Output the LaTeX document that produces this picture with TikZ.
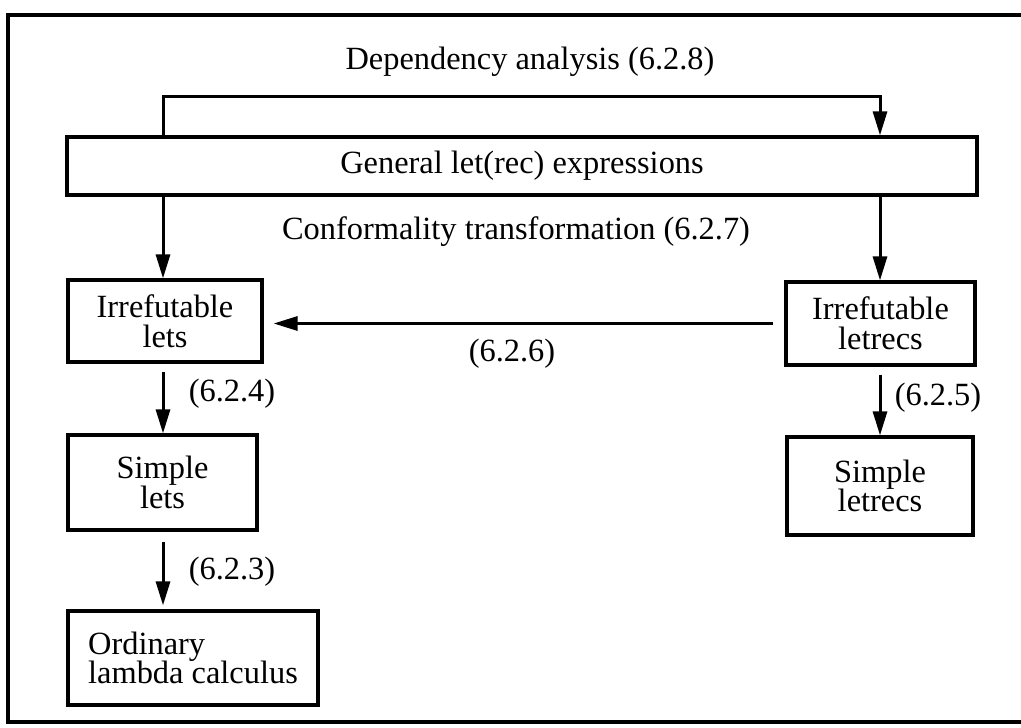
\documentclass[tikz,border=0pt]{standalone}
\usepackage{fontspec}
\setmainfont{Liberation Serif}
\usetikzlibrary{arrows.meta}
\tikzset{
  box/.style={draw, line width=1.6pt, rectangle, inner sep=0pt, align=center,
    font=\fontsize{16.2}{14.8}\selectfont},
  lbl/.style={inner sep=0pt, font=\fontsize{16.2}{18}\selectfont},
  arr/.style={line width=1.5pt, -{Triangle[length=12pt,width=7pt]}},
  frame/.style={line width=2pt, line cap=rect}
}
\begin{document}
\begin{tikzpicture}[x=0.5pt, y=-0.5pt]
\useasboundingbox (0,0) rectangle (1021,727);
% outer frame (right side cut off)
\coordinate (ftl) at (8,15);
\coordinate (ftr) at (1021,15);
\coordinate (fbl) at (8,722);
\coordinate (fbr) at (1021,722);
\draw[frame] (ftr) -- (ftl) -- (fbl) -- (fbr);

% boxes
\node[box, minimum width=455pt, minimum height=29pt] (gen) at (522,166) {General let(rec) expressions};
\node[box, minimum width=97pt, minimum height=41pt] (irl) at (165,321) {Irrefutable\\lets};
\node[box, minimum width=94.5pt, minimum height=41.5pt] (irr) at (880.5,323.5) {Irrefutable\\letrecs};
\node[box, minimum width=94.5pt, minimum height=47.5pt] (sl) at (162.5,482.5) {Simple\\lets};
\node[box, minimum width=93pt, minimum height=49pt] (sr) at (880,486) {Simple\\letrecs};
\node[box, minimum width=125pt, minimum height=47pt, align=left] (ord) at (193,658) {Ordinary\\lambda calculus};

% labels
\node[lbl] (ldep) at (530,62) {Dependency analysis (6.2.8)};
\node[lbl] (lconf) at (516,232) {Conformality transformation (6.2.7)};
\node[lbl] (l626) at (512,354) {(6.2.6)};
\node[lbl] (l624) at (232,394) {(6.2.4)};
\node[lbl] (l623) at (232,572) {(6.2.3)};
\node[lbl] (l625) at (938,398) {(6.2.5)};

% connectors
\coordinate (depL) at (163,0);
\coordinate (depR) at (880,0);
\draw[arr] (depL |- gen.north) -- ++(0,-39) -| (depR |- gen.north);
\draw[arr] (depL |- gen.south) -- (depL |- irl.north);
\draw[arr] (depR |- gen.south) -- (depR |- irr.north);
\draw[arr, shorten <=5.5pt, shorten >=5pt] (irr.west) -- (irr.west -| irl.east);
\draw[arr, shorten <=4pt] (depL |- irl.south) -- (depL |- sl.north);
\draw[arr, shorten <=5pt, shorten >=2pt] (depL |- sl.south) -- (depL |- ord.north);
\draw[arr, shorten <=4pt] (depR |- irr.south) -- (depR |- sr.north);
\end{tikzpicture}
\end{document}
